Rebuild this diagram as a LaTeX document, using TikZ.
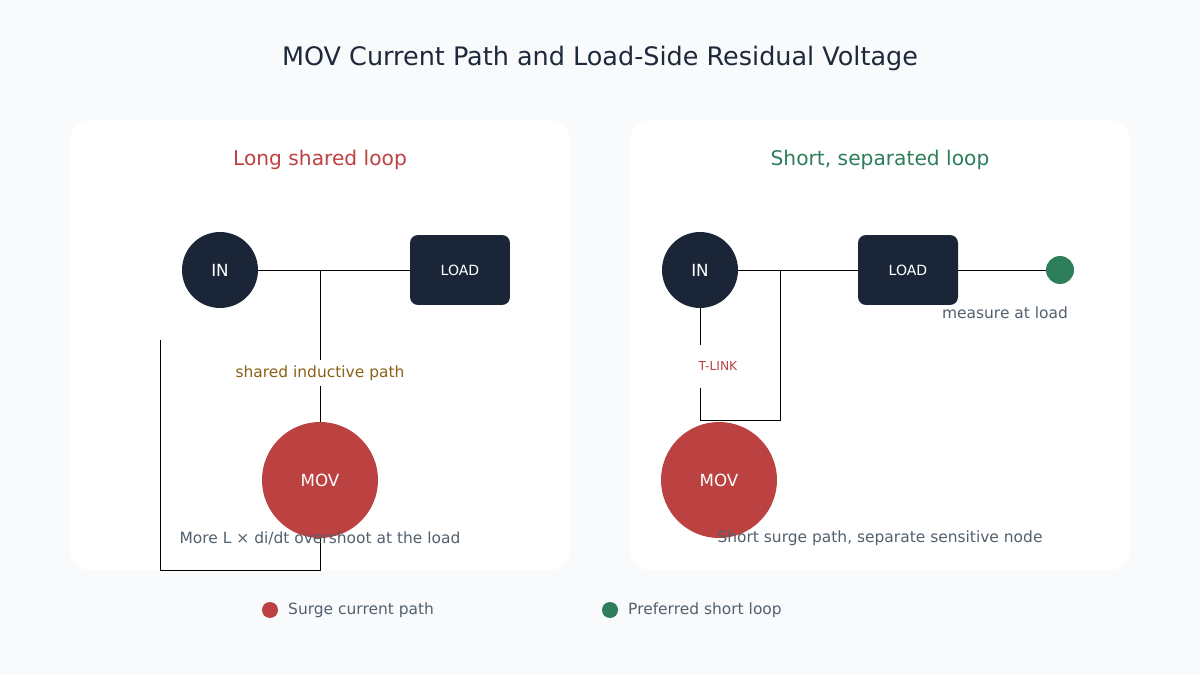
\documentclass[tikz,border=0pt]{standalone}
\usepackage{fontspec}
\setmainfont{DejaVu Sans}
\definecolor{bgc}{HTML}{F8FAFC}
\definecolor{ink}{HTML}{1A2638}
\definecolor{titlec}{HTML}{1E293B}
\definecolor{redc}{HTML}{BC4242}
\definecolor{greenc}{HTML}{2E7D5B}
\definecolor{grayc}{HTML}{52606D}
\definecolor{brownc}{HTML}{8A6116}
\tikzset{
  panel/.style={fill=white,draw=none,rounded corners=0.4cm},
  term/.style={circle,fill=ink,text=white,inner sep=0,minimum size=1.52cm,font=\fontsize{9.5}{11}\selectfont},
  load/.style={rectangle,rounded corners=0.16cm,fill=ink,text=white,minimum width=2cm,minimum height=1.4cm,font=\fontsize{8}{10}\selectfont},
  mov/.style={circle,fill=redc,text=white,inner sep=0,minimum size=2.32cm,font=\fontsize{9.5}{11}\selectfont},
  wire/.style={draw=black,line width=0.5pt},
  note/.style={text=grayc,font=\fontsize{8.8}{10}\selectfont},
  dot/.style={circle,inner sep=0,minimum size=#1}
}
\begin{document}
\begin{tikzpicture}[x=0.02cm,y=-0.02cm]
          \fill[bgc] (0,0) rectangle (1200,675);
          \useasboundingbox (0,0) rectangle (1200,675);
          \node[text=titlec,font=\fontsize{14.5}{16}\selectfont] (title) at (600,58) {MOV Current Path and Load-Side Residual Voltage};
          \fill[panel] (70,120) rectangle (570,570);
          \fill[panel] (630,120) rectangle (1130,570);

          % left panel
          \node[text=redc,font=\fontsize{11.5}{13}\selectfont] (ltitle) at (320,160) {Long shared loop};
          \node[term] (lin) at (220,270) {IN};
          \node[load] (lload) at (460,270) {LOAD};
          \node[mov] (lmov) at (320,480) {MOV};
          \coordinate (ljoin) at (320,270);
          \coordinate (lbot) at (320,570);
          \coordinate (lcorner) at (160,570);
          \coordinate (lend) at (160,340);
          \draw[wire] (lin) -- (lload);
          \draw[wire] (ljoin) -- (lmov);
          \draw[wire] (lmov) -- (lbot) -- (lcorner) -- (lend);
          \node[text=brownc,fill=white,font=\fontsize{8.8}{10}\selectfont] (lshared) at (320,373) {shared inductive path};
          \node[note] (lnote) at (320,538) {More L × di/dt overshoot at the load};

          % right panel
          \node[text=greenc,font=\fontsize{11.5}{13}\selectfont] (rtitle) at (880,160) {Short, separated loop};
          \node[term] (rin) at (700,270) {IN};
          \node[load] (rload) at (908,270) {LOAD};
          \node[mov] (rmov) at (719,480) {MOV};
          \node[dot=0.56cm,fill=greenc] (rmeas) at (1060,270) {};
          \node[text=redc,font=\fontsize{7}{8}\selectfont] (tlink) at (718,366) {T-LINK};
          \coordinate (rjoin) at (780,270);
          \coordinate (rleft) at (700,420);
          \coordinate (rright) at (780,420);
          \coordinate (rtop) at (700,345);
          \coordinate (rlow) at (700,388);
          \draw[wire] (rin) -- (rload);
          \draw[wire] (rload) -- (rmeas);
          \draw[wire] (rin) -- (rtop);
          \draw[wire] (rlow) -- (rleft) -- (rright) -- (rjoin);
          \node[note] (rmeasl) at (1005,313) {measure at load};
          \node[note] (rnote) at (880,538) {Short surge path, separate sensitive node};

          % legend
          \node[dot=0.32cm,fill=redc] (ldot) at (270,610) {};
          \node[note,anchor=west] (ltext) at (282,610) {Surge current path};
          \node[dot=0.32cm,fill=greenc] (gdot) at (610,610) {};
          \node[note,anchor=west] (gtext) at (622,610) {Preferred short loop};
\end{tikzpicture}
\end{document}
